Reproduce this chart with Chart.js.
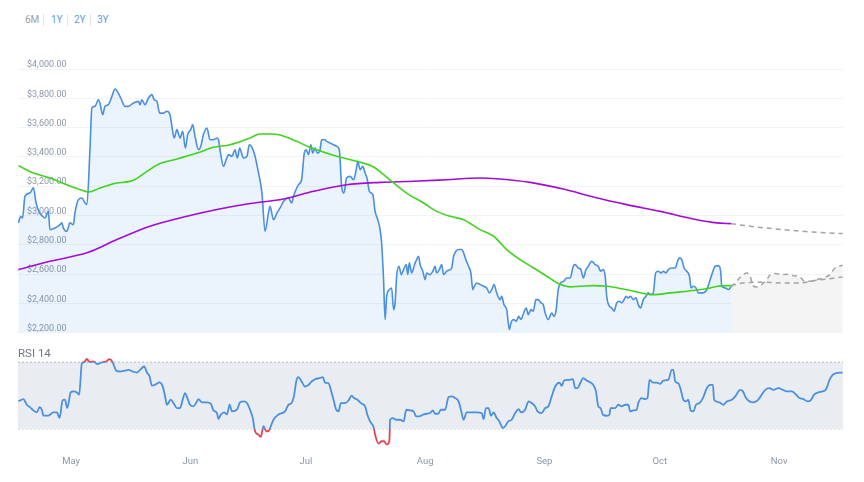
<!DOCTYPE html>
<html>
<head>
<meta charset="utf-8">
<script src="https://cdn.jsdelivr.net/npm/chart.js@4.4.1/dist/chart.umd.min.js"></script>
<style>
    body { margin: 0; background: #fff; font-family: Roboto, sans-serif; }
    #wrap { position: relative; width: 864px; height: 482px; overflow: hidden; }
    .range { position: absolute; top: 14px; font-size: 10px; line-height: 12px; color: #5d9de6; }
    .range.off { color: #9aa0a8; }
    .sep { position: absolute; top: 14px; width: 1px; height: 12px; background: #e1e4e8; }
    #rsiLabel { position: absolute; left: 18px; top: 345px; font-size: 11.5px; line-height: 16px; color: #6f7785; }
    #main { position: absolute; left: 0; top: 0; }
    #rsi { position: absolute; left: 0; top: 340px; }
</style>
</head>
<body>
<div id="wrap">
    <span class="range off" style="left:25px">6M</span>
    <span class="sep" style="left:43px"></span>
    <span class="range" style="left:51px">1Y</span>
    <span class="sep" style="left:67px"></span>
    <span class="range" style="left:74px">2Y</span>
    <span class="sep" style="left:90px"></span>
    <span class="range" style="left:97px">3Y</span>
    <canvas id="main" width="864" height="347"></canvas>
    <div id="rsiLabel">RSI 14</div>
    <canvas id="rsi" width="864" height="142"></canvas>
</div>
<script>
'use strict';

// x values are days counted from 1 May
const firstDay = -13.8;
const lastDay = 200.6;
const monthDays = [0, 31, 61, 92, 123, 153, 184];
const monthLabels = ['May', 'Jun', 'Jul', 'Aug', 'Sep', 'Oct', 'Nov'];

// price axis
const priceMin = 2200;
const priceMax = 4000;
const priceStep = 200;

// daily price
const priceDays = [
    -13.7, -13.1, -12.6, -12.0, -10.7, -9.8, -9.1, -8.2, -7.4, -6.8, -5.9, -5.5, -4.2, -2.9, -2.4, -2.0, -1.1, -0.3,
    0.6, 1.0, 1.9, 2.8, 3.6, 4.1, 4.9, 5.4, 6.2, 7.1, 7.5, 8.2, 8.8, 9.7, 10.6, 11.4, 12.0, 12.9, 14.0, 14.9,
    16.2, 17.5, 17.9, 18.4, 19.2, 20.1, 21.0, 21.6, 22.3, 23.0, 24.0, 24.9, 25.7, 26.4, 26.8, 27.5, 28.3, 29.0,
    29.7, 30.3, 31.1, 31.6, 32.2, 33.1, 33.7, 34.4, 35.3, 36.1, 37.0, 37.9, 38.3, 38.9, 39.6, 40.3, 40.9, 41.8,
    42.6, 43.2, 43.8, 44.8, 45.7, 46.3, 47.1, 47.8, 48.7, 49.6, 50.4, 51.3, 51.7, 52.6, 53.5, 54.3, 55.2, 56.5,
    57.3, 57.8, 59.1, 59.9, 60.6, 61.1, 61.7, 62.3, 62.8, 63.4, 64.0, 64.7, 65.1, 66.0, 66.4, 67.3, 68.2, 69.0,
    69.7, 70.3, 70.9, 71.6, 72.5, 73.4, 74.1, 74.5, 75.1, 75.8, 76.4, 77.0, 77.5, 78.4, 79.0, 79.7, 80.3, 80.7,
    81.2, 81.6, 82.0, 82.7, 83.3, 83.8, 84.2, 84.6, 85.2, 85.8, 86.4, 87.1, 87.5, 87.9, 88.5, 89.0, 89.4, 89.8,
    90.3, 90.7, 91.4, 92.0, 92.4, 93.3, 94.0, 94.6, 95.0, 95.7, 96.3, 96.8, 97.6, 98.5, 98.9, 99.4, 100.0, 100.7,
    101.5, 102.0, 102.6, 103.3, 103.9, 104.4, 104.8, 105.4, 106.3, 107.2, 108.0, 108.7, 109.3, 109.9, 110.6,
    111.5, 111.9, 112.5, 113.2, 113.9, 114.3, 115.0, 115.7, 116.3, 116.9, 117.6, 118.3, 118.8, 119.5, 120.1,
    120.8, 121.4, 122.1, 122.7, 123.2, 124.0, 124.9, 125.5, 126.0, 126.6, 127.2, 128.0, 128.8, 129.7, 130.5,
    131.0, 131.8, 132.5, 133.1, 133.8, 134.4, 135.3, 136.2, 137.0, 137.6, 138.3, 138.8, 139.2, 139.9, 140.5,
    141.1, 141.8, 142.5, 143.1, 143.7, 144.2, 144.8, 145.4, 146.1, 146.8, 147.4, 148.0, 148.7, 149.4, 150.0,
    150.6, 151.3, 151.9, 152.6, 153.3, 153.9, 154.6, 155.2, 156.1, 157.0, 157.6, 158.1, 158.7, 159.3, 160.0,
    160.7, 161.1, 161.7, 162.4, 163.0, 163.5, 164.2, 165.2, 166.5, 167.4, 168.2, 168.8, 169.1, 170.0, 170.8, 171.5
];
const priceValues = [
    2949, 2994, 2983, 3131, 3153, 3188, 3085, 3017, 2994, 2983, 3028, 2903, 2914, 2937, 2949, 2914, 2892, 2949,
    2937, 3017, 3108, 3119, 3085, 3074, 3449, 3734, 3745, 3790, 3768, 3688, 3745, 3756, 3813, 3863, 3847, 3802, 3745, 3745,
    3768, 3779, 3756, 3790, 3756, 3802, 3825, 3790, 3779, 3699, 3699, 3711, 3688, 3574, 3529, 3586, 3529, 3574,
    3460, 3552, 3586, 3620, 3540, 3449, 3472, 3552, 3597, 3517, 3517, 3529, 3517, 3415, 3335, 3381, 3415, 3404,
    3449, 3392, 3460, 3392, 3404, 3483, 3460, 3404, 3290, 3153, 2892, 3017, 3062, 2971, 3017, 3051, 3096, 3119,
    3085, 3131, 3210, 3244, 3426, 3449, 3415, 3483, 3426, 3460, 3426, 3449, 3517, 3517, 3506, 3495, 3483, 3472,
    3449, 3199, 3153, 3256, 3267, 3244, 3313, 3370, 3313, 3335, 3290, 3244, 3165, 3142, 3028, 2971, 2903, 2812,
    2562, 2289, 2448, 2493, 2505, 2357, 2403, 2585, 2653, 2596, 2630, 2664, 2596, 2676, 2607, 2641, 2676, 2698,
    2721, 2664, 2619, 2562, 2607, 2596, 2619, 2653, 2607, 2630, 2664, 2596, 2619, 2630, 2641, 2721, 2755, 2767,
    2767, 2744, 2698, 2653, 2607, 2493, 2516, 2539, 2528, 2516, 2505, 2471, 2493, 2528, 2471,
    2425, 2448, 2391, 2357, 2221, 2266, 2289, 2277, 2311, 2289, 2334, 2368, 2323, 2357, 2346,
    2425, 2425, 2403, 2391, 2334, 2289, 2334, 2311, 2346, 2493, 2539, 2550, 2573, 2573, 2653,
    2664, 2641, 2630, 2573, 2630, 2653, 2687, 2664, 2653, 2619, 2630, 2585, 2448, 2380, 2368,
    2346, 2403, 2414, 2403, 2425, 2448, 2437, 2448, 2425, 2437, 2391, 2368, 2425, 2448, 2471,
    2459, 2471, 2607, 2619, 2607, 2619, 2607, 2630, 2641, 2641, 2687, 2710, 2698, 2641, 2619,
    2585, 2505, 2516, 2505, 2471, 2471, 2471, 2494, 2596, 2653, 2657, 2619, 2516, 2505, 2494, 2512
];

// 50 day moving average
const ma50Days = [
    -13.7, -9.8, -5.5, -1.1, 2.8, 4.5, 7.5, 11.0, 16.2, 19.7, 23.1, 27.5, 32.7, 37.0, 41.3, 46.5, 49.1, 52.0,
    54.3, 58.6, 62.1, 69.0, 74.2, 78.6, 81.2, 83.8, 87.2, 91.6, 95.0, 98.5, 102.0, 106.3, 109.8, 113.2, 116.7,
    120.2, 123.6, 127.1, 129.7, 132.3, 135.7, 139.2, 144.4, 151.3, 155.7, 161.7, 166.1, 168.7, 171.5
];
const ma50Values = [
    3340, 3290, 3256, 3210, 3172, 3160, 3187, 3217, 3240, 3301, 3354, 3385, 3426, 3465, 3483, 3529, 3556, 3556,
    3549, 3506, 3465, 3404, 3370, 3331, 3279, 3222, 3153, 3085, 3028, 2994, 2971, 2903, 2858, 2767, 2698,
    2641, 2585, 2530, 2512, 2516, 2521, 2516, 2493, 2459, 2471, 2487, 2505, 2519, 2521
];

// 200 day moving average
const ma200Days = [
    -13.7, -5.5, 4.5, 11.9, 20.5, 30.1, 37.9, 46.5, 55.2, 63.0, 71.6, 80.3, 89.0, 97.6, 106.3, 110.6, 119.3,
    127.9, 135.7, 144.4, 153.1, 161.7, 167.8, 171.5
];
const ma200Values = [
    2630, 2687, 2748, 2835, 2926, 2994, 3040, 3081, 3112, 3165, 3210, 3226, 3233, 3244, 3256, 3251, 3226,
    3180, 3126, 3074, 3028, 2976, 2949, 2944
];

// forecast
const forecastDays = [
    171.5, 172.6, 173.7, 174.7, 175.6, 176.5, 177.2, 178.2, 179.5, 180.8, 181.7, 183.0, 184.7, 186.0, 187.7,
    189.4, 190.7, 192.0, 193.8, 195.5, 197.2, 198.5, 200.5
];
const forecastValues = [
    2512, 2539, 2573, 2596, 2607, 2584, 2521, 2512, 2528, 2562, 2596, 2603, 2596, 2598, 2589,
    2580, 2550, 2550, 2562, 2573, 2596, 2641, 2660
];
const forecastMa50Days = [171.5, 174.7, 179.1, 185.1, 189.4, 193.8, 198.1, 200.5];
const forecastMa50Values = [2521, 2539, 2544, 2539, 2539, 2557, 2571, 2580];
const forecastMa200Days = [171.5, 176.5, 185.1, 193.8, 200.5];
const forecastMa200Values = [2944, 2926, 2903, 2885, 2876];

// RSI 14
const rsiUpper = 70;
const rsiLower = 30;
const rsiDays = [
    -13.7, -12.4, -11.5, -10.7, -9.8, -8.9, -8.2, -7.6, -7.2, -5.9, -4.6, -3.7, -3.0, -2.2, -1.6, -1.0, -0.1,
    0.6, 1.5, 2.1, 2.8, 3.4, 4.1, 4.8, 5.8, 6.9, 7.9, 9.1, 10.0, 10.8, 11.7, 12.7, 14.0, 14.9, 16.0, 17.1,
    17.9, 19.0, 19.7, 20.4, 21.0, 21.8, 23.0, 23.8, 24.4, 24.9, 25.9, 26.6, 27.5, 28.3, 29.0, 29.6, 30.2,
    30.9, 31.8, 32.7, 33.1, 34.0, 35.3, 36.3, 37.0, 37.9, 38.3, 38.9, 39.8, 40.5, 41.2, 41.8, 43.1, 43.9,
    44.8, 45.7, 46.5, 47.2, 47.8, 48.7, 49.3, 50.0, 50.7, 51.3, 51.9, 52.6, 53.9, 55.6, 56.5, 57.3, 57.9,
    58.6, 59.1, 59.9, 60.8, 61.7, 62.5, 63.4, 64.5, 65.4, 66.0, 66.9, 67.5, 68.2, 68.9, 69.5, 70.1, 71.2,
    72.1, 72.9, 73.5, 74.4, 75.3, 76.4, 77.0, 77.7, 78.6, 79.0, 79.9, 80.7, 81.3, 82.0, 82.7, 82.9, 83.6,
    84.5, 85.5, 86.4, 87.1, 88.1, 89.0, 89.7, 90.5, 91.4, 92.4, 93.3, 94.0, 94.6, 95.4, 96.1, 97.2, 98.1,
    98.9, 99.8, 100.7, 101.3, 102.0, 102.8, 104.1, 105.4, 106.7, 107.2, 107.8, 108.5, 109.1, 109.8, 110.6,
    111.3, 112.2, 112.8, 113.6, 114.5, 115.4, 116.3, 116.9, 118.0, 118.9, 119.7, 120.6, 121.2, 122.3, 123.2,
    124.0, 124.9, 125.8, 126.9, 127.5, 128.1, 129.2, 130.4, 131.0, 131.6, 132.3, 133.1, 134.0, 135.0, 135.7,
    136.4, 137.0, 137.6, 138.2, 139.2, 139.9, 140.2, 141.4, 142.2, 143.1, 144.0, 144.8, 145.3, 146.1, 147.0,
    147.4, 148.3, 149.2, 149.8, 150.3, 151.2, 152.2, 153.1, 153.9, 155.2, 156.1, 156.5, 157.0, 157.8, 158.4,
    159.1, 159.8, 160.4, 161.0, 161.7, 162.4, 163.3, 164.2, 165.2, 166.1, 166.8, 167.1, 168.5, 169.5, 170.4,
    171.7, 172.6, 173.9, 174.6, 175.4, 176.3, 177.3, 178.4, 179.2, 180.4, 181.5, 182.5, 183.8, 185.0, 186.0,
    187.3, 188.4, 189.3, 190.3, 191.4, 192.2, 193.1, 194.2, 195.3, 196.2, 197.1, 197.9, 198.8, 200.5
];
const rsiValues = [
    46.5, 47.9, 44.5, 43.1, 41.1, 39.9, 43.1, 41.5, 38.0, 38.0, 39.9, 39.9, 36.6, 47.1, 47.5, 42.5, 51.9,
    52.5, 51.9, 50.5, 69.4, 70.0, 72.0, 70.0, 70.4, 68.8, 69.8, 70.4, 71.8, 70.0, 65.0, 64.4, 65.0, 65.4, 64.4, 63.8,
    65.4, 67.4, 63.8, 61.4, 55.9, 56.5, 57.9, 55.5, 49.9, 44.5, 47.5, 45.5, 42.5, 42.5, 47.5, 51.5, 48.5,
    44.5, 43.5, 46.5, 47.9, 45.9, 45.9, 45.1, 41.1, 39.5, 36.0, 38.6, 39.9, 38.6, 44.5, 40.5, 41.5, 45.9,
    46.5, 45.5, 41.5, 36.6, 28.6, 26.6, 25.2, 31.6, 28.6, 28.6, 31.6, 35.6, 38.6, 40.5, 44.5, 45.5, 49.5,
    59.4, 61.0, 58.4, 55.4, 56.4, 58.4, 59.8, 60.4, 61.0, 57.8, 57.4, 53.4, 47.5, 41.5, 40.5, 45.5, 45.5,
    47.1, 49.9, 48.5, 47.5, 45.5, 43.5, 38.5, 34.5, 31.2, 26.6, 21.2, 22.6, 22.6, 20.6, 22.6, 35.5, 36.5,
    35.5, 35.5, 34.5, 41.5, 41.1, 40.5, 37.5, 37.5, 38.5, 39.1, 39.5, 41.1, 39.1, 39.1, 41.5, 41.5, 49.1,
    49.5, 48.5, 46.5, 41.5, 35.5, 39.9, 39.9, 39.9, 39.5, 35.9, 42.5, 42.5, 37.9, 39.9, 36.5,
    34.5, 30.6, 31.6, 34.5, 35.5, 39.5, 41.9, 39.9, 41.5, 46.5, 45.5, 43.5, 40.5, 39.5, 42.5,
    43.5, 49.5, 55.4, 57.8, 55.8, 59.0, 59.4, 59.8, 54.4, 54.4, 57.4, 60.4, 59.0, 57.8, 56.4,
    52.5, 43.5, 42.5, 38.5, 37.9, 38.5, 42.5, 42.5, 44.5, 43.5, 44.5, 44.5, 40.5, 41.1, 41.5,
    45.5, 48.5, 47.9, 48.5, 59.4, 57.8, 57.8, 57.0, 59.0, 59.4, 65.4, 65.4, 58.4, 57.4, 53.8,
    47.5, 46.5, 47.5, 41.1, 40.5, 44.5, 45.5, 48.5, 54.4, 56.4, 56.4, 47.5, 45.9, 44.5, 46.5,
    47.5, 49.5, 53.4, 52.5, 48.5, 46.5, 45.9, 47.1, 49.5, 53.4, 54.4, 53.4, 54.4, 53.4, 52.5,
    52.5, 50.5, 48.5, 47.9, 46.5, 47.1, 50.5, 51.9, 52.5, 53.8, 59.4, 62.4, 63.4, 63.8
];

Chart.defaults.font.family = 'Roboto, sans-serif';

function zip (days, values) {
    return days.map((d, i) => ({ x: d, y: values[i] }));
}

function money (value) {
    return '$' + value.toLocaleString('en-US', { minimumFractionDigits: 2, maximumFractionDigits: 2 });
}

const blue = '#4a8fe0';
const red = '#e8414f';
const forecastGrey = '#a3a3a3';

// price chart with moving averages and forecast
// (the canvas runs a few px under the RSI panel, the y labels need that room)
new Chart(document.getElementById('main'), {
    type: 'line',
    data: {
        datasets: [
            { label: 'MA 50', data: zip(ma50Days, ma50Values), borderColor: '#3fd41c', borderWidth: 1.6 },
            { label: 'MA 200', data: zip(ma200Days, ma200Values), borderColor: '#a30bd8', borderWidth: 1.6 },
            {
                label: 'Price', data: zip(priceDays, priceValues), borderColor: blue, borderWidth: 1.6,
                fill: 'start', backgroundColor: 'rgba(74, 143, 224, 0.11)'
            },
            {
                label: 'MA 200 forecast', data: zip(forecastMa200Days, forecastMa200Values),
                borderColor: forecastGrey, borderWidth: 1.5, borderDash: [5, 4]
            },
            {
                label: 'MA 50 forecast', data: zip(forecastMa50Days, forecastMa50Values),
                borderColor: forecastGrey, borderWidth: 1.5, borderDash: [5, 4]
            },
            {
                label: 'Price forecast', data: zip(forecastDays, forecastValues),
                borderColor: forecastGrey, borderWidth: 1.5, borderDash: [5, 4],
                fill: 'start', backgroundColor: '#f4f4f4'
            }
        ]
    },
    options: {
        responsive: false,
        animation: false,
        events: [],
        layout: { padding: { left: 0, right: 21, top: 69, bottom: 0 } },
        elements: {
            point: { radius: 0 },
            line: { cubicInterpolationMode: 'monotone' }
        },
        plugins: {
            legend: { display: false },
            tooltip: { enabled: false }
        },
        scales: {
            x: { type: 'linear', min: firstDay, max: lastDay, display: false },
            y: {
                min: priceMin,
                max: priceMax,
                border: { display: false },
                grid: { color: '#f2f3f5', drawTicks: false },
                ticks: {
                    stepSize: priceStep,
                    mirror: true,
                    padding: 9,
                    labelOffset: -4,
                    color: '#8c96a8',
                    font: { size: 9 },
                    callback: (value) => money(value)
                }
            }
        }
    }
});

// red above 70 and below 30, blue in between
function rsiColor (context) {
    const chart = context.chart;
    const area = chart.chartArea;
    if (!area) {
        return blue;
    }
    const y = chart.scales.y;
    const h = area.bottom - area.top;
    const top = (y.getPixelForValue(rsiUpper) - area.top) / h;
    const bottom = (y.getPixelForValue(rsiLower) - area.top) / h;
    const gradient = chart.ctx.createLinearGradient(0, area.top, 0, area.bottom);
    gradient.addColorStop(0, red);
    gradient.addColorStop(top, red);
    gradient.addColorStop(top, blue);
    gradient.addColorStop(bottom, blue);
    gradient.addColorStop(bottom, red);
    gradient.addColorStop(1, red);
    return gradient;
}

new Chart(document.getElementById('rsi'), {
    type: 'line',
    data: {
        datasets: [
            {
                label: 'RSI 14', data: zip(rsiDays, rsiValues), borderColor: rsiColor, borderWidth: 1.8,
                cubicInterpolationMode: 'monotone'
            },
            {
                label: 'Overbought', data: [{ x: firstDay, y: rsiUpper }, { x: lastDay, y: rsiUpper }],
                borderColor: '#b4b8be', borderWidth: 1, borderDash: [2, 2],
                fill: '+1', backgroundColor: '#e9edf1'
            },
            {
                label: 'Oversold', data: [{ x: firstDay, y: rsiLower }, { x: lastDay, y: rsiLower }],
                borderColor: '#b4b8be', borderWidth: 1, borderDash: [2, 2]
            }
        ]
    },
    options: {
        responsive: false,
        animation: false,
        events: [],
        layout: { padding: { left: 18, right: 21, top: 5.5, bottom: 5 } },
        elements: { point: { radius: 0 } },
        plugins: {
            legend: { display: false },
            tooltip: { enabled: false }
        },
        scales: {
            x: {
                type: 'linear',
                min: firstDay,
                max: lastDay,
                grid: { display: false, drawTicks: false },
                border: { display: false },
                afterBuildTicks: (scale) => {
                    scale.ticks = monthDays.map((d) => ({ value: d }));
                },
                ticks: {
                    autoSkip: false,
                    maxRotation: 0,
                    padding: 10,
                    color: '#8c96a8',
                    font: { size: 9.5 },
                    callback: (value, index) => monthLabels[index]
                }
            },
            y: { min: 20, max: 80, display: false }
        }
    }
});
</script>
</body>
</html>
